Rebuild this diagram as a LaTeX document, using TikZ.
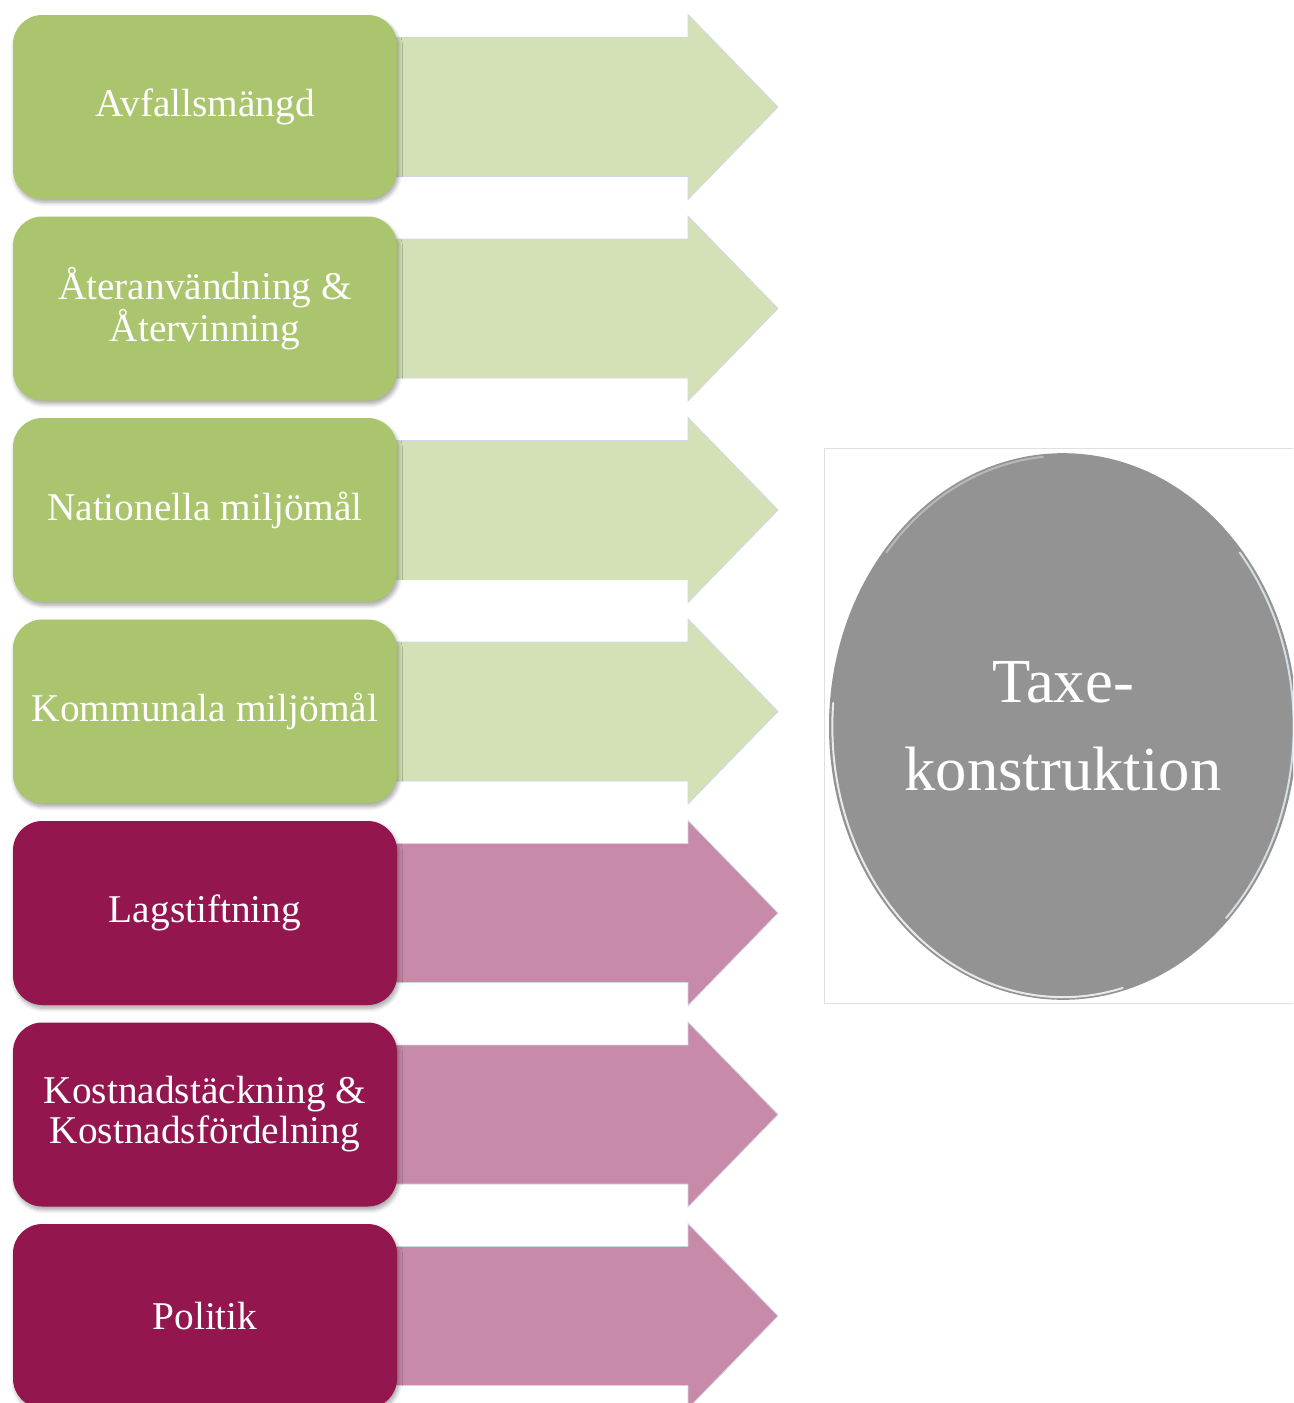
\documentclass[tikz,border=0pt]{standalone}
\usepackage{fontspec}
\setmainfont{Liberation Serif}
\usetikzlibrary{shapes.geometric,shadows.blur}

\definecolor{leafbox}{RGB}{171,196,110}
\definecolor{leafarrow}{RGB}{212,225,182}
\definecolor{plumbox}{RGB}{148,22,78}
\definecolor{plumarrow}{RGB}{199,138,168}
\definecolor{arrowedge}{RGB}{208,216,232}
\definecolor{hubgray}{RGB}{147,147,147}

% one drawing unit is 0.75pt; sizes below are given in pt
\tikzset{
  factor/.style={rounded corners=22pt, minimum width=288pt, minimum height=138pt,
    inner sep=0pt, text=white, align=center,
    font=\fontsize{29.5}{30}\selectfont,
    blur shadow={shadow xshift=1.2pt, shadow yshift=-2.5pt, shadow blur steps=6,
      shadow blur radius=3pt, shadow opacity=35}},
  greenbox/.style={factor, fill=leafbox},
  plumbox/.style={factor, fill=plumbox},
  flow/.style={draw=arrowedge, line width=0.6pt, line join=miter},
  hub/.style={ellipse, fill=hubgray, minimum width=351pt, minimum height=410pt,
    inner sep=0pt, text=white, align=center,
    font=\fontsize{47}{66}\selectfont},
  rim/.style={line width=1.5pt, line cap=round},
}

\begin{document}
\begin{tikzpicture}[x=0.75pt, y=-0.75pt]
  \useasboundingbox (0,0) rectangle (1293,1403);
  \clip (0,0) rectangle (1293,1403);

  % block arrows pointing towards the hub
  \foreach \c/\col in {107/leafarrow, 308.5/leafarrow, 510/leafarrow, 711.5/leafarrow,
                       913/plumarrow, 1114.5/plumarrow, 1316/plumarrow} {
    \path[flow, fill=\col]
      (390,\c-69.5) -- (688,\c-69.5) -- (688,\c-92.5) -- (778,\c)
      -- (688,\c+92.5) -- (688,\c+69.5) -- (390,\c+69.5) -- cycle;
  }

  % factor boxes
  \node[greenbox] (avfall)  at (205,107)    {Avfallsmängd};
  \node[greenbox] (atervin) at (205,308.5)  {Återanvändning \&\\Återvinning};
  \node[greenbox] (natmal)  at (205,510)    {Nationella miljömål};
  \node[greenbox] (kommal)  at (205,711.5)  {Kommunala miljömål};
  \node[plumbox]  (lag)     at (205,913)    {Lagstiftning};
  \node[plumbox]  (kostnad) at (205,1114.5) {Kostnadstäckning \&\\Kostnadsfördelning};
  \node[plumbox]  (politik) at (205,1316)   {Politik};

  % hub with its light frame and glossy rim
  \draw[black!12, line width=0.6pt] (824,448) rectangle (1300,1003);
  \node[hub] (taxa) at (1063,726.5) {Taxe-\\konstruktion};
  \draw[rim, white, opacity=0.8]
    ([shift={(175:173pt and 203pt)}]taxa.center)
    arc[start angle=175, end angle=285, x radius=173pt, y radius=203pt];
  \draw[rim, white!92!cyan, opacity=0.75]
    ([shift={(-45:173pt and 203pt)}]taxa.center)
    arc[start angle=-45, end angle=40, x radius=173pt, y radius=203pt];
  \draw[rim, white, opacity=0.35]
    ([shift={(95:173pt and 203pt)}]taxa.center)
    arc[start angle=95, end angle=140, x radius=173pt, y radius=203pt];
\end{tikzpicture}
\end{document}
